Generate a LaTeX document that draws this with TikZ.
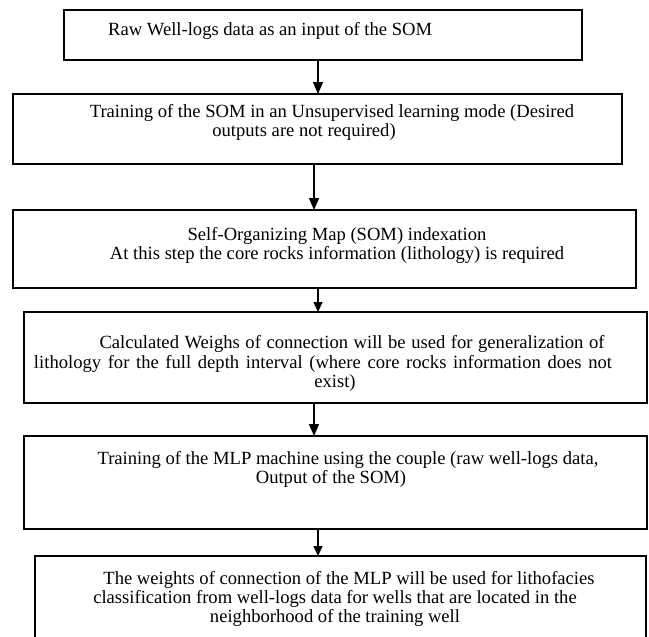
\documentclass[tikz,border=0pt]{standalone}
\usepackage{fontspec}
\setmainfont{Liberation Serif}
\usetikzlibrary{arrows.meta}
\begin{document}
\begin{tikzpicture}[x=1pt,y=-1pt,
  box/.style={draw=black, line width=1.3pt, rectangle, inner sep=0pt, outer sep=0pt, anchor=north west},
  txt/.style={inner sep=0pt, anchor=base, font=\fontsize{18.6}{20}\selectfont},
  arr/.style={line width=1.3pt, -{Triangle[width=10pt,length=12pt]}},
  arrs/.style={line width=1.3pt, -{Triangle[width=9pt,length=10pt]}}]
\useasboundingbox (0,0) rectangle (649,637);
% boxes
\node[box, minimum width=518pt, minimum height=50pt] (b1) at (64,10) {};
\node[box, minimum width=609pt, minimum height=70pt] (b2) at (13,94) {};
\node[box, minimum width=623pt, minimum height=78pt] (b3) at (13,210) {};
\node[box, minimum width=623pt, minimum height=91pt] (b4) at (24,312) {};
\node[box, minimum width=623pt, minimum height=93pt] (b5) at (24,436) {};
\node[box, minimum width=611pt, minimum height=90pt] (b6) at (35,556) {};
% texts
\node[txt, anchor=base west] (t1) at (108,35) {Raw Well-logs data as an input of the SOM};
\node[txt] (t2a) at (332,117) {Training of the SOM in an Unsupervised learning mode (Desired};
\node[txt] (t2b) at (304,136) {outputs are not required)};
\node[txt] (t3a) at (337,240) {Self-Organizing Map (SOM) indexation};
\node[txt] (t3b) at (337,259) {At this step the core rocks information (lithology) is required};
\node[txt] (t4a) at (352,348) {\makebox[505pt][s]{Calculated Weighs of connection will be used for generalization of}};
\node[txt] (t4b) at (323,368) {\makebox[578pt][s]{lithology for the full depth interval (where core rocks information does not}};
\node[txt] (t4c) at (335,387) {exist)};
\node[txt] (t5a) at (348,464) {Training of the MLP machine using the couple (raw well-logs data,};
\node[txt] (t5b) at (331,483) {Output of the SOM)};
\node[txt] (t6a) at (349,584) {The weights of connection of the MLP will be used for lithofacies};
\node[txt] (t6b) at (335,603) {classification from well-logs data for wells that are located in the};
\node[txt] (t6c) at (335,622) {neighborhood of the training well};
% arrow positions
\coordinate (x1) at (318,0);
\coordinate (x2) at (314,0);
\coordinate (x3) at (318,0);
\coordinate (x4) at (314,0);
\coordinate (x5) at (318,0);
\draw[arr] (b1.south -| x1) -- (b2.north -| x1);
\draw[arr] (b2.south -| x2) -- (b3.north -| x2);
\draw[arrs] (b3.south -| x3) -- (b4.north -| x3);
\draw[arr] (b4.south -| x4) -- (b5.north -| x4);
\draw[arrs] (b5.south -| x5) -- (b6.north -| x5);
\end{tikzpicture}
\end{document}
